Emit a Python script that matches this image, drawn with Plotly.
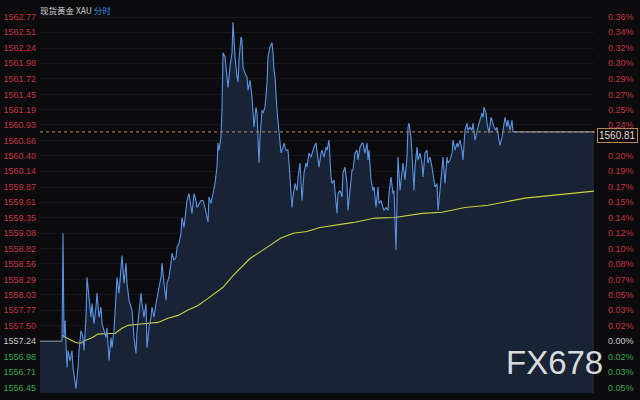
import plotly.graph_objects as go

# ---------------- data ----------------
prev_close = 1557.24
last_price = 1560.81
session_start = 0      # minute index of left edge
open_minute = 22       # first traded minute
session_end = 554      # minute index of right edge

# (minute, price) of the intraday price line
intraday = [
    (22, 1557.24), (23, 1559.08), (24, 1557.30), (25, 1557.59), (27, 1556.79), (28, 1557.08),
    (30, 1556.91), (32, 1557.08), (33, 1556.79), (35, 1556.52), (36, 1556.43), (38, 1556.79),
    (39, 1557.08), (41, 1557.42), (43, 1557.30), (44, 1557.08), (46, 1557.65), (47, 1558.33),
    (49, 1557.99), (51, 1557.65), (52, 1557.88), (54, 1557.54), (56, 1557.82), (57, 1558.06),
    (59, 1557.65), (61, 1557.82), (62, 1557.54), (64, 1557.42), (66, 1557.30), (67, 1557.47),
    (69, 1556.91), (71, 1557.30), (72, 1557.13), (74, 1557.42), (76, 1557.94), (77, 1558.33),
    (79, 1558.06), (81, 1558.45), (82, 1558.70), (84, 1558.23), (86, 1558.57), (87, 1558.23),
    (89, 1557.94), (91, 1557.82), (92, 1557.77), (94, 1557.30), (96, 1557.03), (97, 1557.42),
    (99, 1557.71), (101, 1558.06), (102, 1557.88), (104, 1557.65), (106, 1557.88), (107, 1557.13),
    (109, 1557.47), (111, 1557.65), (112, 1557.82), (114, 1557.65), (116, 1557.88), (117, 1557.99),
    (119, 1558.16), (121, 1558.33), (122, 1558.57), (124, 1558.23), (126, 1557.94), (127, 1558.23),
    (129, 1558.33), (131, 1558.57), (132, 1558.74), (134, 1558.62), (136, 1558.67), (137, 1558.84),
    (139, 1558.91), (141, 1559.08), (142, 1559.35), (144, 1559.18), (146, 1559.52), (147, 1559.64),
    (149, 1559.76), (151, 1559.52), (152, 1559.42), (154, 1559.76), (156, 1559.64), (157, 1559.52),
    (159, 1559.59), (161, 1559.64), (163, 1559.64), (165, 1559.52), (167, 1559.35), (168, 1559.27),
    (169, 1559.70), (171, 1559.59), (173, 1559.76), (175, 1559.93), (177, 1560.21), (178, 1560.62),
    (179, 1560.50), (181, 1560.72), (182, 1561.18), (183, 1562.16), (185, 1562.09), (187, 1561.75),
    (188, 1561.57), (190, 1561.92), (192, 1562.16), (193, 1562.68), (194, 1562.38), (195, 1562.09),
    (197, 1561.75), (198, 1561.66), (199, 1562.04), (201, 1562.43), (202, 1562.38), (203, 1561.92),
    (205, 1561.81), (207, 1561.75), (208, 1561.52), (210, 1561.69), (212, 1561.40), (213, 1561.18),
    (214, 1560.89), (216, 1561.23), (217, 1561.13), (219, 1560.28), (220, 1560.72), (222, 1561.18),
    (223, 1561.13), (225, 1561.23), (227, 1561.64), (228, 1562.09), (230, 1562.26), (232, 1562.33),
    (233, 1562.16), (234, 1561.86), (235, 1561.75), (237, 1561.18), (238, 1560.96), (240, 1560.67),
    (241, 1560.45), (243, 1560.55), (244, 1560.62), (246, 1560.50), (248, 1560.50), (249, 1560.28),
    (251, 1559.81), (252, 1559.52), (253, 1559.70), (255, 1559.93), (257, 1559.81), (258, 1560.04),
    (260, 1560.28), (261, 1559.93), (262, 1559.64), (264, 1560.11), (266, 1560.28), (267, 1560.21),
    (269, 1560.45), (271, 1560.38), (272, 1560.45), (274, 1560.55), (276, 1560.62), (277, 1560.45),
    (279, 1560.21), (281, 1560.45), (282, 1560.50), (284, 1560.38), (286, 1560.55), (287, 1560.50),
    (289, 1560.67), (291, 1560.04), (292, 1559.93), (294, 1559.99), (296, 1559.64), (297, 1559.42),
    (298, 1559.76), (300, 1559.81), (302, 1559.70), (303, 1560.11), (305, 1560.21), (307, 1559.93),
    (308, 1559.47), (310, 1559.81), (312, 1560.16), (313, 1560.16), (315, 1560.45), (317, 1560.50),
    (318, 1560.33), (320, 1560.55), (322, 1560.62), (323, 1560.62), (325, 1560.45), (327, 1560.62),
    (328, 1560.33), (329, 1560.50), (331, 1559.99), (333, 1559.81), (334, 1559.87), (336, 1559.52),
    (338, 1559.87), (339, 1559.59), (341, 1559.64), (343, 1559.52), (344, 1559.47), (346, 1559.52),
    (348, 1559.47), (349, 1559.76), (351, 1560.04), (353, 1559.76), (354, 1559.81), (356, 1558.79),
    (357, 1559.70), (358, 1560.38), (360, 1559.81), (362, 1560.16), (363, 1560.28), (365, 1559.99),
    (367, 1560.38), (368, 1560.89), (369, 1560.96), (371, 1560.72), (372, 1560.33), (374, 1559.81),
    (375, 1560.21), (377, 1560.55), (378, 1560.33), (380, 1560.45), (382, 1560.28), (383, 1560.04),
    (385, 1560.45), (387, 1560.50), (388, 1560.28), (390, 1560.38), (392, 1560.21), (393, 1560.11),
    (395, 1559.87), (397, 1559.93), (398, 1559.47), (400, 1559.81), (402, 1560.16), (403, 1560.38),
    (405, 1559.93), (407, 1560.38), (408, 1560.28), (410, 1560.33), (412, 1560.45), (413, 1560.67),
    (415, 1560.50), (417, 1560.62), (418, 1560.55), (420, 1560.67), (422, 1560.50), (423, 1560.33),
    (425, 1560.84), (427, 1560.96), (428, 1560.84), (430, 1560.89), (432, 1560.84), (433, 1560.96),
    (435, 1560.67), (437, 1560.84), (438, 1560.89), (440, 1561.01), (442, 1561.13), (443, 1561.06),
    (444, 1561.23), (446, 1561.13), (447, 1560.96), (449, 1560.79), (451, 1561.06), (452, 1561.01),
    (454, 1560.89), (456, 1560.84), (457, 1560.89), (459, 1560.67), (460, 1560.58), (462, 1560.72),
    (463, 1560.84), (465, 1561.06), (467, 1560.89), (468, 1561.01), (470, 1560.84), (472, 1561.01),
    (473, 1560.81), (475, 1560.81),
]

# average price line
avg_minutes = [22, 28, 35, 40, 45, 52, 58, 68, 75, 82, 88, 98, 108, 118, 128, 138, 148, 158,
               168, 175, 183, 193, 200, 210, 227, 240, 253, 267, 280, 293, 307, 315, 320, 335,
               355, 382, 402, 425, 448, 485, 554]
avg_prices = [1557.34, 1557.29, 1557.22, 1557.20, 1557.25, 1557.30, 1557.36, 1557.37, 1557.37,
              1557.46, 1557.51, 1557.53, 1557.54, 1557.56, 1557.63, 1557.68, 1557.77, 1557.85,
              1557.97, 1558.06, 1558.16, 1558.36, 1558.48, 1558.65, 1558.84, 1558.99, 1559.08,
              1559.11, 1559.18, 1559.22, 1559.25, 1559.27, 1559.29, 1559.34, 1559.35, 1559.42,
              1559.44, 1559.52, 1559.56, 1559.68, 1559.80]

left_labels = ["1562.77", "1562.51", "1562.24", "1561.98", "1561.72", "1561.45", "1561.19",
               "1560.93", "1560.66", "1560.40", "1560.14", "1559.87", "1559.61", "1559.35",
               "1559.08", "1558.82", "1558.56", "1558.29", "1558.03", "1557.77", "1557.50",
               "1557.24", "1556.98", "1556.71", "1556.45"]
right_labels = ["0.36%", "0.34%", "0.32%", "0.30%", "0.29%", "0.27%", "0.25%", "0.24%", "",
                "0.20%", "0.19%", "0.17%", "0.15%", "0.14%", "0.12%", "0.10%", "0.08%", "0.07%",
                "0.05%", "0.03%", "0.02%", "0.00%", "0.02%", "0.03%", "0.05%"]

title_main = "现货黄金 XAU"
title_mode = "分时"
watermark = "FX678"

# ---------------- styling ----------------
BG = "#0b0b0d"
FILL = "#182336"
BLUE = "#5b93e4"
FLAT = "#8c96a3"
YELLOW = "#cfd03a"
RED = "#c2343f"
GREEN = "#3ba94d"
NEUTRAL = "#c8c8c8"
FONT = "Liberation Sans, Arial, sans-serif"

tick_vals = [float(v) for v in left_labels]
step = (tick_vals[0] - tick_vals[-1]) / (len(tick_vals) - 1)
y_lo = tick_vals[-1] - 5.5 * step / 15.4
y_hi = tick_vals[0] + 10 * step / 15.4


def colour_for(v):
    if abs(v - prev_close) < 1e-6:
        return NEUTRAL
    return RED if v > prev_close else GREEN


left_text = [f'<span style="color:{colour_for(v)}">{t}</span>' for v, t in zip(tick_vals, left_labels)]
right_text = [f'<span style="color:{colour_for(v)}">{t}</span>' for v, t in zip(tick_vals, right_labels)]

mins = [m for m, _ in intraday]
prices = [p for _, p in intraday]

# full series for the filled area
fill_x = [session_start] + mins + [session_end]
fill_y = [prev_close] + prices + [last_price]

fig = go.Figure()
fig.add_trace(go.Scatter(x=fill_x, y=fill_y, mode="lines", line=dict(width=0),
                         fill="tozeroy", fillcolor=FILL, hoverinfo="skip"))
fig.add_trace(go.Scatter(x=[session_start, open_minute], y=[prev_close, prev_close], mode="lines",
                         line=dict(color=FLAT, width=1.1)))
fig.add_trace(go.Scatter(x=[mins[-1], session_end], y=[last_price, last_price], mode="lines",
                         line=dict(color=FLAT, width=1.1)))
fig.add_trace(go.Scatter(x=avg_minutes, y=avg_prices, mode="lines",
                         line=dict(color=YELLOW, width=1.1)))
fig.add_trace(go.Scatter(x=mins, y=prices, mode="lines",
                         line=dict(color=BLUE, width=1.1)))
# invisible trace on right axis so it renders
fig.add_trace(go.Scatter(x=[session_start], y=[prev_close], yaxis="y2", mode="markers",
                         marker=dict(opacity=0), hoverinfo="skip"))

fig.add_shape(type="line", xref="paper", yref="y", x0=0, x1=1.026, y0=last_price, y1=last_price,
              line=dict(color="#c38d5c", width=1, dash="3px,3px"))

fig.update_layout(
    width=640, height=400,
    margin=dict(l=40, r=46, t=7, b=7),
    paper_bgcolor=BG, plot_bgcolor=BG,
    showlegend=False,
    font=dict(family=FONT, size=9, color=NEUTRAL),
    xaxis=dict(range=[session_start, session_end], visible=False, fixedrange=True,
               automargin=False),
    yaxis=dict(range=[y_lo, y_hi], tickmode="array", tickvals=tick_vals, ticktext=left_text,
               showgrid=True, gridcolor="#15161a", gridwidth=1, zeroline=False, automargin=False,
               ticks="", ticklabelstandoff=3, tickfont=dict(family=FONT, size=9)),
    yaxis2=dict(range=[y_lo, y_hi], overlaying="y", side="right", tickmode="array",
                tickvals=tick_vals, ticktext=right_text, showgrid=False, zeroline=False,
                automargin=False,
                ticks="", ticklabelstandoff=13, tickfont=dict(family=FONT, size=9)),
    annotations=[
        dict(xref="paper", yref="paper", x=-0.004, y=0.992, xanchor="left", yanchor="middle",
             showarrow=False,
             text=f'{title_main} <span style="color:#3f8de2">{title_mode}</span>',
             font=dict(family="Noto Sans CJK SC", size=8.5, color="#d6d6d6")),
        dict(xref="paper", yref="y", x=1.006, y=last_price, xanchor="left", yanchor="middle",
             yshift=-4, showarrow=False, text=f"{last_price:.2f}",
             font=dict(family=FONT, size=10, color="#e6dccb"),
             bgcolor=BG, bordercolor="#b9844f", borderwidth=1, borderpad=1),
        dict(xref="paper", yref="paper", x=1.019, y=0.078, xanchor="right", yanchor="middle",
             showarrow=False, text=watermark,
             font=dict(family=FONT, size=33, color="rgba(238,238,238,0.92)")),
    ],
)

fig.write_html("out.html", config={"displayModeBar": False, "staticPlot": True},
               post_script="document.body.style.margin='0';document.body.style.background='#0b0b0d';")
